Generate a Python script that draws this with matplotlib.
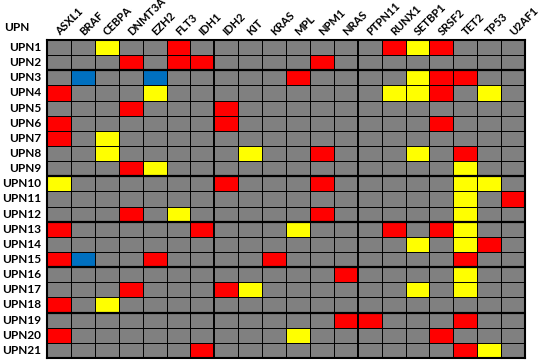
import numpy as np
import matplotlib
matplotlib.use("Agg")
import matplotlib.pyplot as plt
from matplotlib.colors import ListedColormap

# genes across the top, patients down the side
genes = ['ASXL1', 'BRAF', 'CEBPA', 'DNMT3A', 'EZH2', 'FLT3', 'IDH1', 'IDH2', 'KIT', 'KRAS',
         'MPL', 'NPM1', 'NRAS', 'PTPN11', 'RUNX1', 'SETBP1', 'SRSF2', 'TET2', 'TP53', 'U2AF1']
patients = ['UPN1', 'UPN2', 'UPN3', 'UPN4', 'UPN5', 'UPN6', 'UPN7', 'UPN8', 'UPN9', 'UPN10',
            'UPN11', 'UPN12', 'UPN13', 'UPN14', 'UPN15', 'UPN16', 'UPN17', 'UPN18', 'UPN19',
            'UPN20', 'UPN21']

# one string per patient, one char per gene: . none, R red, Y yellow, B blue
calls = [
    "..Y..R........RYR...",
    "...R.RR....R........",
    ".B..B.....R....YRR..",
    "R...Y.........YYR.Y.",
    "...R...R............",
    "R......R........R...",
    "R.Y.................",
    "..Y.....Y..R...Y.R..",
    "...RY............Y..",
    "Y......R...R.....YY.",
    ".................Y.R",
    "...R.Y.....R.....Y..",
    "R.....R...Y...R.RY..",
    "...............Y.YR.",
    "RB..R....R.......R..",
    "............R....Y..",
    "...R...RY......Y.Y..",
    "R.Y.................",
    "............RR...R..",
    "R.........Y.....R...",
    "......R..........RY.",
]

# rows/columns after which a heavier rule is drawn
thick_rows = [2, 9, 12, 15, 18]
thick_cols = [7, 13]

code = {'.': 0, 'R': 1, 'Y': 2, 'B': 3}
grid = np.array([[code[c] for c in row] for row in calls])
cmap = ListedColormap(['#808080', '#FF0000', '#FFFF00', '#0070C0'])

plt.rcParams['font.family'] = ['Lato', 'DejaVu Sans']

fig = plt.figure(figsize=(5.5, 3.64), dpi=100)
ax = fig.add_axes([47 / 550, 1 - 358 / 364, 478 / 550, 318 / 364])
ax.pcolormesh(grid, cmap=cmap, vmin=-0.5, vmax=3.5)
ax.set_xlim(0, len(genes))
ax.set_ylim(len(patients), 0)

for i in range(1, len(patients)):
    ax.axhline(i, color='black', lw=1.6 if i in thick_rows else 0.7)
for j in range(1, len(genes)):
    ax.axvline(j, color='black', lw=1.4 if j in thick_cols else 0.7)
for s in ax.spines.values():
    s.set_linewidth(1.5)

ax.set_xticks([])
ax.set_yticks([])

for i, p in enumerate(patients):
    ax.text(-0.25, i + 0.5, p, ha='right', va='center', fontsize=8.5, fontweight='bold')
for j, g in enumerate(genes):
    ax.text(j + 0.55, -0.25, g, ha='left', va='baseline', rotation=45,
            rotation_mode='anchor', fontsize=8, fontweight='bold')
ax.text(-1.8, -0.8, 'UPN', ha='left', va='center', fontsize=8.5, fontweight='bold')

fig.savefig('out.png', dpi=100)
